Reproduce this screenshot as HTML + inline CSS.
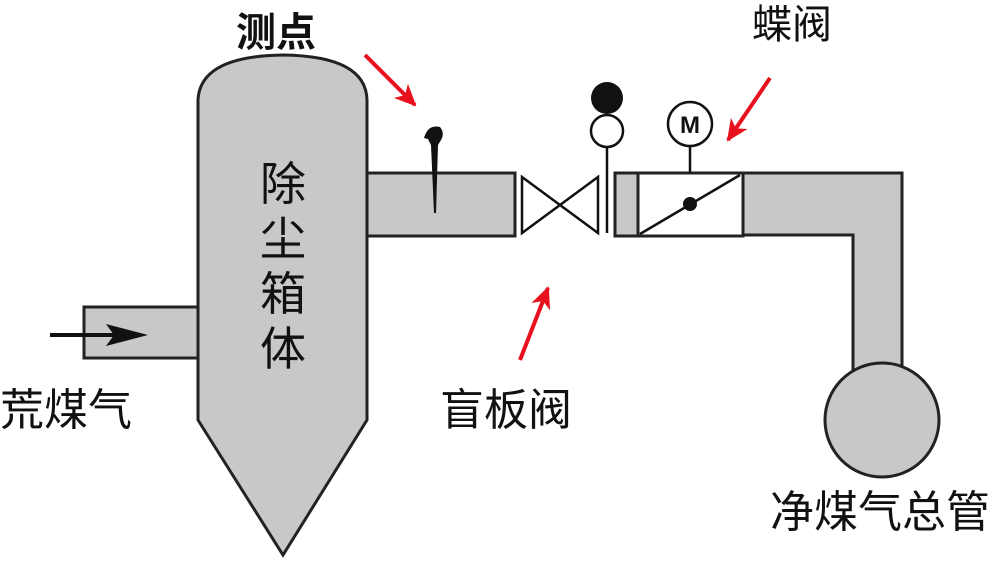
<!DOCTYPE html>
<html><head><meta charset="utf-8"><style>
html,body{margin:0;padding:0;background:#fff;width:1000px;height:564px;overflow:hidden}
svg{display:block}
text{font-family:"Liberation Sans","Noto Sans CJK SC",sans-serif;fill:#111}
</style></head><body>
<svg width="1000" height="564" viewBox="0 0 1000 564" xmlns="http://www.w3.org/2000/svg">
<defs>
<marker id="ra" markerWidth="22" markerHeight="20" refX="20" refY="10" orient="auto" markerUnits="userSpaceOnUse" viewBox="0 0 22 20"><path d="M0,0 L22,10 L0,20 L6,10z" fill="#e8101c"/></marker>
</defs>
<g stroke="#222" stroke-width="3" fill="#c8c8c8">
<rect x="84" y="307" width="114" height="51"/>
<path d="M198,100 Q200,56 283,55 Q366,56 367,100 L367,420 L283,555 L198,420 Z"/>
<rect x="367" y="173" width="148" height="63"/>
<path d="M743,173 L902,173 L902,372 L853,372 L853,235 L743,235 Z"/>
<circle cx="882" cy="420" r="57"/>
<rect x="615" y="173" width="128" height="63"/>
<rect x="638" y="173" width="105" height="63" fill="#fff"/>
</g>
<g stroke="#111" stroke-width="2.5" fill="none">
<line x1="640" y1="234" x2="740" y2="175"/>
<line x1="690" y1="146" x2="690" y2="173"/>
<circle cx="690" cy="124" r="22" fill="#fff"/>
<path d="M522,177 L598,233 L598,177 L522,233 Z" fill="#fff"/>
<line x1="607" y1="145" x2="607" y2="233"/>
<circle cx="607" cy="131" r="16" fill="#fff"/>
</g>
<circle cx="607" cy="98" r="16" fill="#111"/>
<circle cx="690" cy="204" r="7" fill="#111"/>
<text x="690" y="133" font-size="24" font-weight="bold" text-anchor="middle">M</text>
<path d="M424,138 Q428,124 440,127 Q445,133 441,140 L438,145 L436,213 L434,213 L431,145 L428,139 Z" fill="#111"/>
<line x1="50" y1="335" x2="130" y2="335" stroke="#111" stroke-width="4"/>
<path d="M148,335 L106,324 L114,335 L106,346 Z" fill="#111"/>
<g stroke="#e8101c" stroke-width="4" marker-end="url(#ra)">
<line x1="365" y1="55" x2="415" y2="105"/>
<line x1="770" y1="78" x2="728" y2="140"/>
<line x1="520" y1="360" x2="548" y2="288"/>
</g>
<g font-size="44">
<text x="283" y="200" text-anchor="middle" font-size="46">除</text>
<text x="283" y="255" text-anchor="middle" font-size="46">尘</text>
<text x="283" y="310" text-anchor="middle" font-size="46">箱</text>
<text x="283" y="365" text-anchor="middle" font-size="46">体</text>
<text x="0" y="425">荒煤气</text>
<text x="440" y="425">盲板阀</text>
<text x="752" y="38" font-size="40">蝶阀</text>
<text x="770" y="527">净煤气总管</text>
<text x="236" y="46" font-size="40" font-weight="bold">测点</text>
</g>
</svg>
</body></html>
